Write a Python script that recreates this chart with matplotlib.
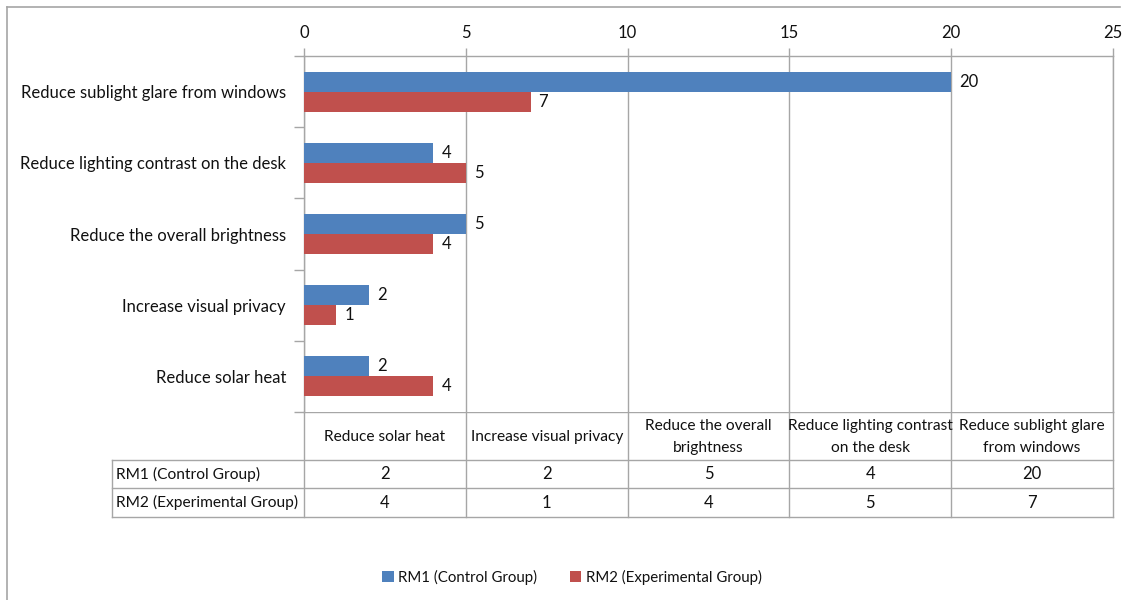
import matplotlib
matplotlib.use("Agg")
import matplotlib.pyplot as plt
import matplotlib.transforms as mtransforms
import numpy as np

plt.rcParams['font.family'] = ['Lato', 'DejaVu Sans']

# Categories in table/column order (bottom-to-top on the bar chart)
categories = [
    "Reduce solar heat",
    "Increase visual privacy",
    "Reduce the overall brightness",
    "Reduce lighting contrast on the desk",
    "Reduce sublight glare from windows",
]
header_labels = [
    "Reduce solar heat",
    "Increase visual privacy",
    "Reduce the overall\nbrightness",
    "Reduce lighting contrast\non the desk",
    "Reduce sublight glare\nfrom windows",
]
series_names = ["RM1 (Control Group)", "RM2 (Experimental Group)"]
rm1_values = [2, 2, 5, 4, 20]
rm2_values = [4, 1, 4, 5, 7]
x_ticks = [0, 5, 10, 15, 20, 25]

BLUE = "#4F81BD"
RED = "#C0504D"
GRID = "#A6A6A6"
TXT = "#111111"
FS = 12          # axis labels and value labels
FS_TAB = 11.2    # data table text
FS_LEG = 10.8    # legend text

W, H = 1128, 600
fig = plt.figure(figsize=(W / 100, H / 100), dpi=100)

# Plot area in pixel terms
L, R, T, B = 304, 1113, 56, 412
ax = fig.add_axes([L / W, 1 - B / H, (R - L) / W, (B - T) / H])

y = np.arange(len(categories))
bh = 0.28
ax.barh(y + bh / 2, rm1_values, height=bh, color=BLUE, label=series_names[0], zorder=3)
ax.barh(y - bh / 2, rm2_values, height=bh, color=RED, label=series_names[1], zorder=3)

for yi, v in zip(y, rm1_values):
    ax.annotate(str(v), (v, yi + bh / 2), xytext=(8, 0), textcoords="offset pixels",
                va="center", ha="left", fontsize=FS, color=TXT)
for yi, v in zip(y, rm2_values):
    ax.annotate(str(v), (v, yi - bh / 2), xytext=(8, 0), textcoords="offset pixels",
                va="center", ha="left", fontsize=FS, color=TXT)

ax.set_xlim(0, 25)
ax.set_ylim(-0.5, len(categories) - 0.5)

# Top value axis
ax.xaxis.tick_top()
ax.set_xticks(x_ticks)
ax.set_xticklabels([str(t) for t in x_ticks], fontsize=FS, color=TXT)
ax.tick_params(axis="x", which="major", length=6, color=GRID, pad=5, width=1)
ax.grid(axis="x", color=GRID, linewidth=1, zorder=0)

# Category axis: labels centred, tick marks at category boundaries
ax.set_yticks(y)
ax.set_yticklabels(categories, fontsize=FS, color=TXT)
ax.tick_params(axis="y", which="major", length=0, pad=13)
ax.set_yticks(np.arange(-0.5, len(categories)), minor=True)
ax.tick_params(axis="y", which="minor", length=7, color=GRID, width=1)

for s in ["top", "left", "right"]:
    ax.spines[s].set_color(GRID)
    ax.spines[s].set_linewidth(1)
ax.spines["bottom"].set_visible(False)

# Overlay in pixel coordinates for the data table and chart frame
canvas = fig.add_axes([0, 0, 1, 1], zorder=-1)
canvas.set_xlim(0, W)
canvas.set_ylim(H, 0)
canvas.axis("off")
canvas.patch.set_alpha(0)

# Chart frame (left and top edges)
canvas.plot([7, 7], [7, H], color=GRID, lw=1.2)
canvas.plot([7, 1120], [7, 7], color=GRID, lw=1.2)

mix = mtransforms.blended_transform_factory(ax.transData, canvas.transData)

row_tops = [412, 460, 488, 517]
left_col = 112
col_edges = x_ticks  # table columns align with the value-axis grid

# Horizontal lines
canvas.plot([L, R], [row_tops[0], row_tops[0]], color=GRID, lw=1)
for yy in row_tops[1:]:
    canvas.plot([left_col, R], [yy, yy], color=GRID, lw=1)
# Vertical lines
for ce in col_edges:
    ax.plot([ce, ce], [row_tops[0], row_tops[-1]], color=GRID, lw=1,
            transform=mix, clip_on=False)
canvas.plot([left_col, left_col], [row_tops[1], row_tops[-1]], color=GRID, lw=1)

# Header cells
for i, lab in enumerate(header_labels):
    cx = (col_edges[i] + col_edges[i + 1]) / 2
    ax.text(cx, (row_tops[0] + row_tops[1]) / 2 + 1, lab, transform=mix, ha="center",
            va="center", fontsize=FS_TAB, color=TXT, linespacing=1.7)

# Value rows
for r, (name, vals) in enumerate([(series_names[0], rm1_values), (series_names[1], rm2_values)]):
    cy = (row_tops[r + 1] + row_tops[r + 2]) / 2
    canvas.text(left_col + 4, cy, name, ha="left", va="center", fontsize=FS_TAB, color=TXT)
    for i, v in enumerate(vals):
        cx = (col_edges[i] + col_edges[i + 1]) / 2
        ax.text(cx, cy, str(v), transform=mix, ha="center", va="center",
                fontsize=FS, color=TXT)

# Legend
fig.legend(loc="center", bbox_to_anchor=(572 / W, 1 - 577 / H), ncol=2, frameon=False,
           fontsize=FS_LEG, handlelength=0.75, handleheight=0.75, handletextpad=0.3,
           columnspacing=2.2, labelcolor=TXT)

fig.savefig("out.png", dpi=100, facecolor="white")
